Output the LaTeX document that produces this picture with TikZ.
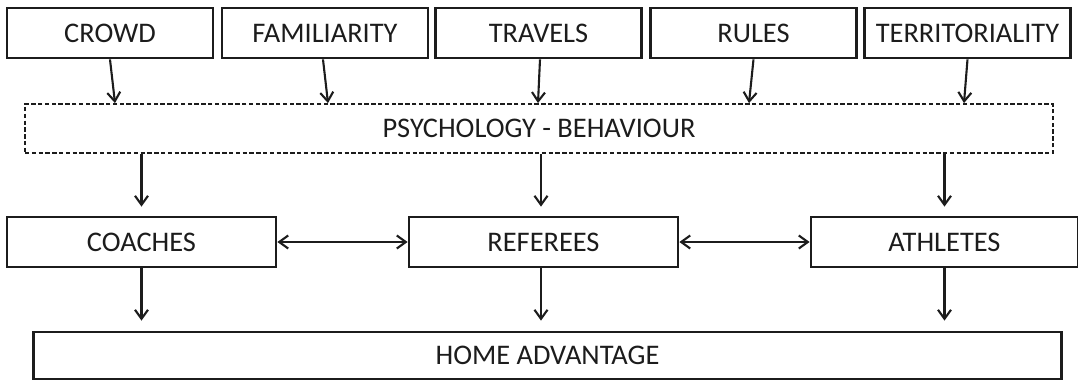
\documentclass[tikz,border=0pt]{standalone}
\usepackage{fontspec}
\setmainfont{Carlito}
\usepackage{tikz}
\usetikzlibrary{arrows.meta,positioning}
\definecolor{hmInk}{RGB}{28,28,28}

\tikzset{
  factor/.style={draw=hmInk, line width=1.4pt, minimum width=103pt, minimum height=25pt,
    inner sep=0pt, text=hmInk, font=\fontsize{14.2}{16}\selectfont},
  psychbox/.style={factor, dashed, dash pattern=on 2.2pt off 1.2pt, line width=0.9pt,
    minimum width=514pt, minimum height=24.5pt},
  actor/.style={factor, minimum width=134.5pt},
  arr/.style={draw=hmInk, line width=1.05pt, -{Straight Barb[length=4.5pt,width=6.5pt,line width=1.05pt]}},
  dbl/.style={arr, {Straight Barb[length=4.5pt,width=6.5pt,line width=1.05pt]}-{Straight Barb[length=4.5pt,width=6.5pt,line width=1.05pt]}}
}

\begin{document}
\begin{tikzpicture}[x=0.5pt,y=-0.5pt]
    \useasboundingbox (0,0) rectangle (1078,380);

    % factors
    \node[factor] (crowd) at (110,33) {CROWD};
    \node[factor] (familiarity) at (325,33) {FAMILIARITY};
    \node[factor] (travels) at (538.5,33) {TRAVELS};
    \node[factor] (rules) at (753.5,33) {RULES};
    \node[factor] (territoriality) at (967.5,33) {TERRITORIALITY};

    % psychology
    \node[psychbox] (psych) at (539,128.5) {PSYCHOLOGY - BEHAVIOUR};

    % actors
    \node[actor] (coaches) at (141.5,242) {COACHES};
    \node[actor] (referees) at (543.5,242) {REFEREES};
    \node[actor, minimum width=133.5pt] (athletes) at (944.5,242) {ATHLETES};

    % outcome
    \node[factor, minimum width=514pt, minimum height=23.5pt] (home) at (547.5,355.5) {HOME ADVANTAGE};

    % factors -> psychology
    \draw[arr] (crowd.south) -- ([xshift=-212pt]psych.north);
    \draw[arr] ([xshift=-1pt]familiarity.south) -- ([xshift=-105.5pt]psych.north);
    \draw[arr] ([xshift=0.75pt]travels.south) -- ([xshift=-0.5pt]psych.north);
    \draw[arr] (rules.south) -- ([xshift=105pt]psych.north);
    \draw[arr] (territoriality.south) -- ([xshift=212.5pt]psych.north);

    % psychology -> actors
    \draw[arr] (psych.south -| coaches.north) -- ([yshift=4.5pt]coaches.north);
    \draw[arr] ([xshift=-1.25pt]psych.south -| referees.north) -- ([xshift=-1.25pt,yshift=4.5pt]referees.north);
    \draw[arr] (psych.south -| athletes.north) -- ([yshift=4.5pt]athletes.north);

    % actors <-> actors
    \draw[dbl] (coaches.east) -- (referees.west);
    \draw[dbl] (referees.east) -- (athletes.west);

    % actors -> home advantage
    \draw[arr] (coaches.south) -- ([yshift=5pt]coaches.south |- home.north);
    \draw[arr] ([xshift=-1.25pt]referees.south) -- ([xshift=-1.25pt,yshift=5pt]referees.south |- home.north);
    \draw[arr] (athletes.south) -- ([yshift=5pt]athletes.south |- home.north);
\end{tikzpicture}
\end{document}
